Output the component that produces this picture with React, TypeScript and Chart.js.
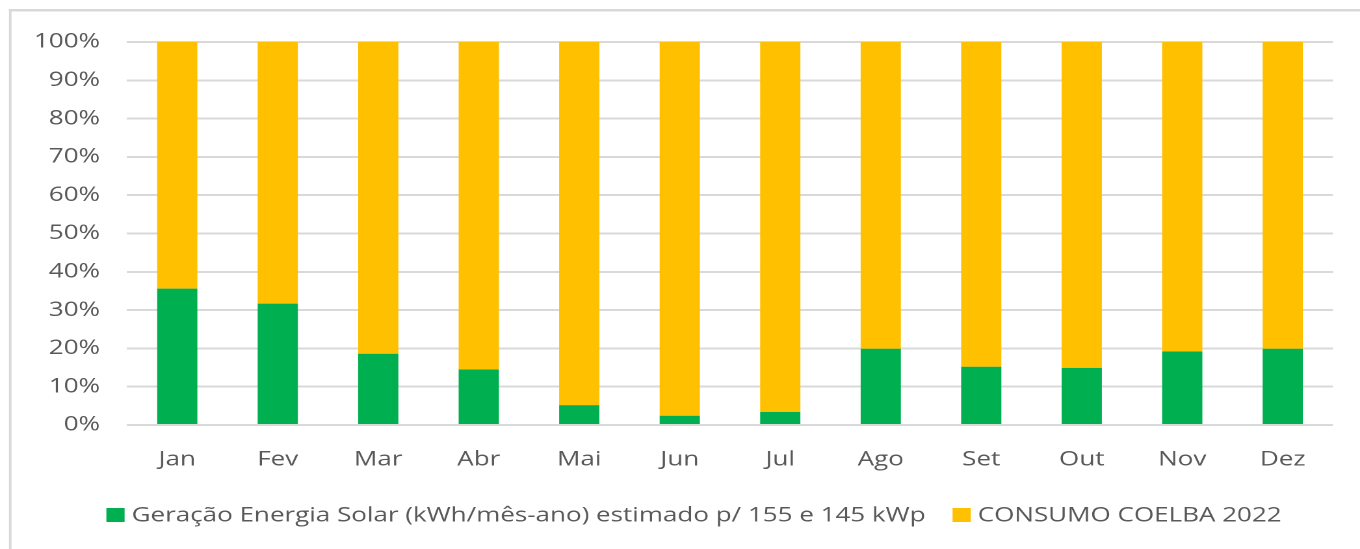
import React, { useEffect, useRef } from "react";
import { Chart, registerables } from "chart.js";

Chart.register(...registerables);

const categories = ["Jan", "Fev", "Mar", "Abr", "Mai", "Jun", "Jul", "Ago", "Set", "Out", "Nov", "Dez"];
const geracaoPct = [35.6, 31.7, 18.6, 14.5, 5.2, 2.4, 3.4, 19.9, 15.2, 14.9, 19.2, 19.9];
const consumoPct = [64.4, 68.3, 81.4, 85.5, 94.8, 97.6, 96.6, 80.1, 84.8, 85.1, 80.8, 80.1];
const seriesLabels = [
  "Geração Energia Solar (kWh/mês-ano) estimado p/ 155 e 145 kWp",
  "CONSUMO COELBA 2022",
];
const seriesColors = ["#00B050", "#FFC000"];

const SCREEN_W = 1360;
const SCREEN_H = 549;
const CW = 1046; // logical canvas width (stretched horizontally)
const K = SCREEN_W / CW;
const FONT = '"Open Sans", "Noto Sans", sans-serif';
const TEXT_COLOR = "#595959";
const GRID_COLOR = "#D9D9D9";

const sx = (v: number) => v / K;

const framePlugin = {
  id: "frame",
  beforeDraw(chart: any) {
    const ctx = chart.ctx;
    ctx.save();
    ctx.fillStyle = "#ffffff";
    ctx.fillRect(0, 0, chart.width, chart.height);
    ctx.fillStyle = "#D9D9D9";
    ctx.fillRect(sx(9), 9, chart.width, 2.5);
    ctx.fillRect(sx(9), 9, sx(2.5), chart.height);
    ctx.restore();
  },
};

const legendPlugin = {
  id: "customLegend",
  afterDraw(chart: any) {
    const ctx = chart.ctx;
    ctx.save();
    ctx.font = `20px ${FONT}`;
    ctx.textBaseline = "middle";
    ctx.textAlign = "left";
    const box = 14;
    const gap = sx(7);
    const spacing = sx(27);
    const items = chart.data.datasets.map((ds: any) => ({
      text: ds.label,
      color: ds.backgroundColor,
      w: ctx.measureText(ds.label).width,
    }));
    const total =
      items.reduce((s: number, it: any) => s + box + gap + it.w, 0) + spacing * (items.length - 1);
    const cx = sx((105 + 1283) / 2);
    const cy = 515;
    let x = cx - total / 2;
    items.forEach((it: any) => {
      ctx.fillStyle = it.color;
      ctx.fillRect(x, cy - box / 2, box, box);
      x += box + gap;
      ctx.fillStyle = TEXT_COLOR;
      ctx.fillText(it.text, x, cy + 1);
      x += it.w + spacing;
    });
    ctx.restore();
  },
};

export default function App() {
  const canvasRef = useRef<HTMLCanvasElement | null>(null);

  useEffect(() => {
    document.body.style.margin = "0";
    const canvas = canvasRef.current;
    if (!canvas) return;
    const chart = new Chart(canvas, {
      type: "bar",
      data: {
        labels: categories,
        datasets: [
          {
            label: seriesLabels[0],
            data: geracaoPct,
            backgroundColor: seriesColors[0],
            barPercentage: 0.4,
            categoryPercentage: 1,
          },
          {
            label: seriesLabels[1],
            data: consumoPct,
            backgroundColor: seriesColors[1],
            barPercentage: 0.4,
            categoryPercentage: 1,
          },
        ],
      },
      options: {
        responsive: false,
        animation: false,
        devicePixelRatio: 2,
        layout: {
          padding: { left: 0, right: CW - sx(1333), top: 42, bottom: 0 },
        },
        plugins: {
          legend: { display: false },
          tooltip: { enabled: false },
          title: { display: false },
        },
        scales: {
          x: {
            stacked: true,
            grid: { display: false, drawTicks: false },
            border: { display: false },
            ticks: {
              color: TEXT_COLOR,
              font: { family: FONT, size: 20 },
              padding: 23,
            },
            afterFit: (scale: any) => {
              scale.height = SCREEN_H - 425;
            },
          },
          y: {
            stacked: true,
            min: 0,
            max: 100,
            grid: { color: GRID_COLOR, lineWidth: 2, drawTicks: false },
            border: { display: false },
            ticks: {
              stepSize: 10,
              color: TEXT_COLOR,
              font: { family: FONT, size: 20 },
              padding: sx(127) - sx(100),
              callback: (v: any) => `${v}%`,
            },
            afterFit: (scale: any) => {
              scale.width = sx(127);
            },
          },
        },
      },
      plugins: [framePlugin, legendPlugin],
    });
    return () => chart.destroy();
  }, []);

  return (
    <div
      style={{
        width: CW,
        height: SCREEN_H,
        transform: `scaleX(${K})`,
        transformOrigin: "0 0",
        overflow: "hidden",
      }}
    >
      <canvas ref={canvasRef} width={CW} height={SCREEN_H} style={{ width: CW, height: SCREEN_H }} />
    </div>
  );
}
